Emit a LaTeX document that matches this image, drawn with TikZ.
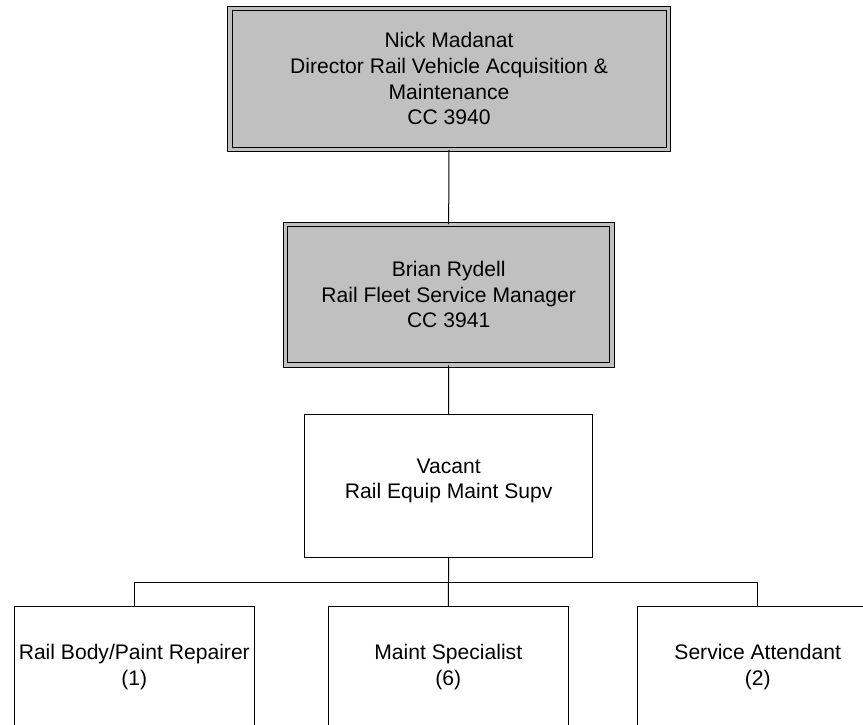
\documentclass[tikz,border=0pt]{standalone}
\usepackage{fontspec}
\setmainfont{Liberation Sans}
\definecolor{boxgray}{HTML}{C0C0C0}
\begin{document}
\begin{tikzpicture}[x=1pt,y=-1pt,
  every node/.style={font=\fontsize{21.1}{25.6}\selectfont, align=center, inner sep=0pt},
  graybox/.style={draw=black, line width=1pt, double=boxgray, double distance=3.5pt, fill=boxgray, rectangle},
  plainbox/.style={draw=black, line width=1pt, fill=white, rectangle},
  link/.style={draw=black, line width=1pt}]
\useasboundingbox (0,0) rectangle (863,724);
\clip (0,0) rectangle (863,724);
\node[graybox, minimum width=438.5pt, minimum height=141pt] (dir) at (449,78.75)
  {Nick Madanat\\Director Rail Vehicle Acquisition \&\\Maintenance\\CC 3940};
\node[graybox, minimum width=326.3pt, minimum height=140.3pt] (mgr) at (448.65,294.65)
  {Brian Rydell\\Rail Fleet Service Manager\\CC 3941};
\node[plainbox, minimum width=288pt, minimum height=143.4pt,
  label={[yshift=5pt, align=center]center:{Vacant\\Rail Equip Maint Supv}}] (sup) at (448.7,486) {};
\node[plainbox, minimum width=240pt, minimum height=120.3pt] (b1) at (134.3,666.85)
  {Rail Body/Paint Repairer\\(1)};
\node[plainbox, minimum width=240pt, minimum height=120.3pt] (b2) at (448.3,666.85)
  {Maint Specialist\\(6)};
\node[plainbox, minimum width=240pt, minimum height=120.3pt] (b3) at (757.7,666.85)
  {Service Attendant\\(2)};
\coordinate (bus) at (448.5,582);
\draw[link] (dir.south) -- (mgr.north);
\draw[link] (mgr.south) -- (sup.north);
\draw[link] (sup.south) -- (b2.north);
\draw[link] (b1.north) -- (b1.north |- bus) -- (b3.north |- bus) -- (b3.north);
\end{tikzpicture}
\end{document}
